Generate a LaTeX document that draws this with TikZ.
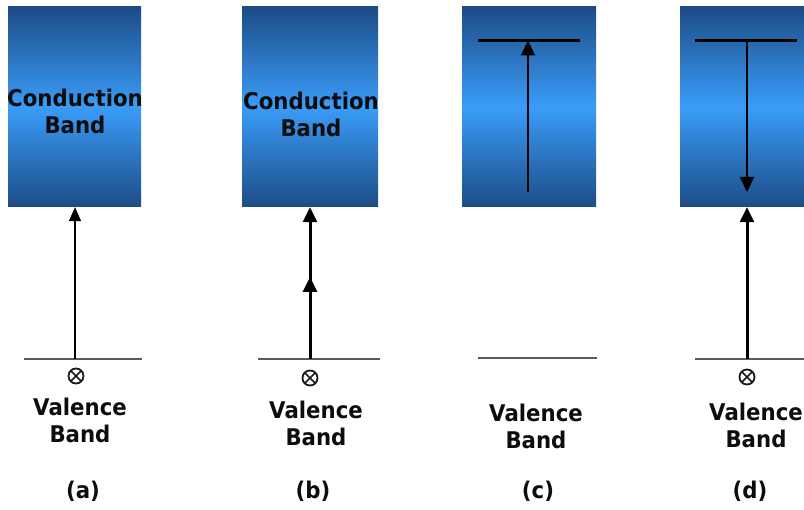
\documentclass[tikz,border=0pt]{standalone}
\usepackage{fontspec}
\newfontfamily\bandfont[FakeStretch=0.925]{DejaVu Sans}
\usetikzlibrary{arrows.meta}
\definecolor{dkblue}{HTML}{1D4C86}
\definecolor{ltblue}{HTML}{3A9CF8}
\definecolor{lvl}{HTML}{5A5A5A}
\tikzset{
  x=1pt, y=-1pt,
  band/.style={shading=axis, top color=dkblue, bottom color=dkblue, middle color=ltblue, draw=none, inner sep=0pt},
  btext/.style={font=\bandfont\bfseries\fontsize{23}{27}\selectfont, text=black!95, align=center, inner sep=0pt},
  level/.style={draw=lvl, line width=2.4pt},
  elevel/.style={draw=black, line width=2.8pt},
  tri/.style={-{Triangle[length=15pt,width=14pt]}},
  hole/.style={circle, draw=black!90, line width=1.8pt, minimum size=15pt, inner sep=0pt,
    path picture={\draw[black!90, line width=1.6pt]
      (path picture bounding box.north west) -- (path picture bounding box.south east)
      (path picture bounding box.north east) -- (path picture bounding box.south west);}},
}
\begin{document}
\begin{tikzpicture}
\useasboundingbox (0,0) rectangle (804,510);
\clip (0,0) rectangle (804,510);
% bands
\node[band, minimum width=133pt, minimum height=200pt] (A) at (74.5,107) {};
\node[band, minimum width=136pt, minimum height=200pt] (B) at (310,107) {};
\node[band, minimum width=134pt, minimum height=200pt] (C) at (529,107) {};
\node[band, minimum width=130pt, minimum height=200pt] (D) at (745,107) {};
\node[btext] (At) at (75,111) {Conduction\\Band};
\node[btext] (Bt) at (311,114.5) {Conduction\\Band};
% valence levels
\coordinate (a1) at (24,359); \coordinate (a2) at (142,359);
\coordinate (b1) at (258,359); \coordinate (b2) at (380,359);
\coordinate (c1) at (478,358); \coordinate (c2) at (597,358);
\coordinate (d1) at (695,359); \coordinate (d2) at (804,359);
\draw[level] (a1) -- (a2);
\draw[level] (b1) -- (b2);
\draw[level] (c1) -- (c2);
\draw[level] (d1) -- (d2);
% excited levels
\coordinate (ce1) at (478,40.5); \coordinate (ce2) at (580,40.5);
\coordinate (de1) at (695,40.5); \coordinate (de2) at (797,40.5);
\draw[elevel] (ce1) -- (ce2);
\draw[elevel] (de1) -- (de2);
% arrows
\coordinate (av) at (75,359);
\draw[-{Triangle[length=14pt,width=12pt]}, line width=1.3pt] (av) -- (A.south -| av);
\coordinate (bv) at (310,359);
\coordinate (bm) at (310,277);
\coordinate (bm0) at (310,300);
\draw[tri, line width=3pt] (bv) -- (B.south -| bv);
\draw[tri, line width=3pt] (bm0) -- (bm);
\coordinate (cs) at (528,192);
\draw[tri, line width=2.2pt] (cs) -- (ce1 -| cs);
\coordinate (dt) at (747,40.5);
\coordinate (de) at (747,192);
\draw[tri, line width=2.2pt] (dt) -- (de);
\coordinate (dv) at (747,359);
\draw[tri, line width=3pt] (dv) -- (D.south -| dv);
% holes
\node[hole] (ax) at (76,376) {};
\node[hole] (bx) at (310,378) {};
\node[hole] (dx) at (747,377) {};
% labels
\node[btext] (av1) at (80,420) {Valence\\Band};
\node[btext] (bv1) at (316,423) {Valence\\Band};
\node[btext] (cv1) at (536,426.5) {Valence\\Band};
\node[btext] (dv1) at (756,425.5) {Valence\\Band};
\node[btext] (la) at (83,491) {(a)};
\node[btext] (lb) at (313,491) {(b)};
\node[btext] (lc) at (538,491) {(c)};
\node[btext] (ld) at (750,491) {(d)};
\end{tikzpicture}
\end{document}
